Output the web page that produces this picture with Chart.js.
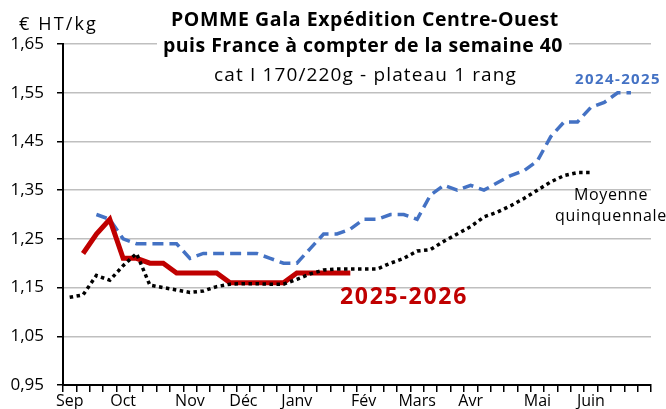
<!DOCTYPE html>
<html>
<head>
<meta charset="utf-8">
<script src="https://cdn.jsdelivr.net/npm/chart.js@4.4.1/dist/chart.umd.min.js"></script>
<style>
  body { margin: 0; background: #fff; }
  canvas { display: block; }
</style>
</head>
<body>
<canvas id="chart" width="666" height="409"></canvas>
<script>
// weekly categories, week 36 -> week 27
const weekLabels = ['Sep', '', '', '', 'Oct', '', '', '', '', 'Nov', '', '', '', 'Déc', '', '', '',
  'Janv', '', '', '', '', 'Fév', '', '', '', 'Mars', '', '', '', 'Avr', '', '', '', '', 'Mai',
  '', '', '', 'Juin', '', '', '', ''];

const yTicks = [0.95, 1.05, 1.15, 1.25, 1.35, 1.45, 1.55, 1.65];

const campagne2526 = [null, 1.22, 1.26, 1.29, 1.21, 1.21, 1.20, 1.20, 1.18, 1.18, 1.18, 1.18,
  1.16, 1.16, 1.16, 1.16, 1.16, 1.18, 1.18, 1.18, 1.18, 1.18];

const campagne2425 = [null, null, 1.30, 1.29, 1.25, 1.24, 1.24, 1.24, 1.24, 1.21, 1.22, 1.22,
  1.22, 1.22, 1.22, 1.21, 1.20, 1.20, 1.23, 1.26, 1.26, 1.27, 1.29, 1.29, 1.30, 1.30, 1.29,
  1.34, 1.36, 1.35, 1.36, 1.35, 1.365, 1.38, 1.39, 1.41, 1.46, 1.49, 1.49, 1.52, 1.53, 1.55, 1.55];

const moyenne5ans = [1.13, 1.135, 1.175, 1.165, 1.195, 1.22, 1.155, 1.15, 1.145, 1.14, 1.143,
  1.152, 1.157, 1.158, 1.158, 1.157, 1.157, 1.167, 1.178, 1.186, 1.188, 1.188, 1.188, 1.188,
  1.20, 1.21, 1.225, 1.228, 1.245, 1.26, 1.275, 1.295, 1.305, 1.318, 1.333, 1.35, 1.367, 1.38,
  1.386, 1.386];

const FONT = 'Open Sans';

// draw text from x, adjusting letter spacing to the wanted width
function spacedText(c, txt, x, y, width, font, color, bg) {
  c.font = font;
  c.letterSpacing = '0px';
  const w = c.measureText(txt).width;
  const extra = (width - w) / txt.length;
  c.letterSpacing = extra.toFixed(2) + 'px';
  if (bg) {
    c.fillStyle = bg;
    c.fillRect(x - 6, y - 12, width + 12, 24);
  }
  c.fillStyle = color;
  c.fillText(txt, x, y);
  c.letterSpacing = '0px';
}

const textPlugin = {
  id: 'texts',
  afterDraw(chart) {
    const c = chart.ctx;
    c.save();
    c.textBaseline = 'middle';
    c.textAlign = 'left';
    spacedText(c, 'POMME Gala Expédition Centre-Ouest', 171, 20, 388, 'bold 19.5px "' + FONT + '"', '#000');
    spacedText(c, 'puis France à compter de la semaine 40', 163, 46, 400, 'bold 19.5px "' + FONT + '"', '#000', '#fff');
    spacedText(c, 'cat I 170/220g - plateau 1 rang', 214, 76, 303, '19px "' + FONT + '"', '#000');
    spacedText(c, '€ HT/kg', 19, 25, 79, '18px "' + FONT + '"', '#000');
    spacedText(c, '2024-2025', 575, 80, 86, 'bold 15px "' + FONT + '"', '#4472C4');
    spacedText(c, 'Moyenne', 574, 195, 74, '16px "' + FONT + '"', '#000');
    spacedText(c, 'quinquennale', 555, 216, 112, '16px "' + FONT + '"', '#000');
    spacedText(c, '2025-2026', 340, 297, 128, 'bold 23px "' + FONT + '"', '#C00000');
    c.restore();
  }
};

const ctx = document.getElementById('chart').getContext('2d');
new Chart(ctx, {
  type: 'line',
  data: {
    labels: weekLabels,
    datasets: [
      {
        label: 'Moyenne quinquennale',
        data: moyenne5ans,
        borderColor: '#000',
        borderWidth: 3.5,
        borderDash: [3.5, 3.5],
        pointRadius: 0,
        tension: 0,
        fill: false
      },
      {
        label: '2025-2026',
        data: campagne2526,
        borderColor: '#C00000',
        borderWidth: 5,
        pointRadius: 0,
        tension: 0,
        fill: false
      },
      {
        label: '2024-2025',
        data: campagne2425,
        borderColor: '#4472C4',
        borderWidth: 3.5,
        borderDash: [11, 6],
        pointRadius: 0,
        tension: 0,
        fill: false
      }
    ]
  },
  options: {
    responsive: false,
    animation: false,
    layout: { padding: { top: 44, right: 15, bottom: 0, left: 0 } },
    plugins: {
      legend: { display: false },
      tooltip: { enabled: false }
    },
    scales: {
      x: {
        offset: true,
        afterFit: s => { s.height = 24; },
        grid: {
          offset: true,
          drawOnChartArea: false,
          drawTicks: true,
          tickLength: 7,
          tickColor: '#000',
          lineWidth: 1.5
        },
        border: { color: '#000', width: 2 },
        ticks: {
          autoSkip: false,
          maxRotation: 0,
          padding: 0,
          color: '#000',
          font: { family: FONT, size: 16 }
        }
      },
      y: {
        min: 0.95,
        max: 1.65,
        afterFit: s => { s.width = 63; },
        afterBuildTicks: s => { s.ticks = yTicks.map(v => ({ value: v })); },
        grid: {
          color: '#bfbfbf',
          lineWidth: 1.5,
          tickColor: '#000',
          tickLength: 6
        },
        border: { color: '#000', width: 2 },
        ticks: {
          padding: 13,
          color: '#000',
          font: { family: FONT, size: 17 },
          callback: v => v.toFixed(2).replace('.', ',')
        }
      }
    }
  },
  plugins: [textPlugin]
});
</script>
</body>
</html>
